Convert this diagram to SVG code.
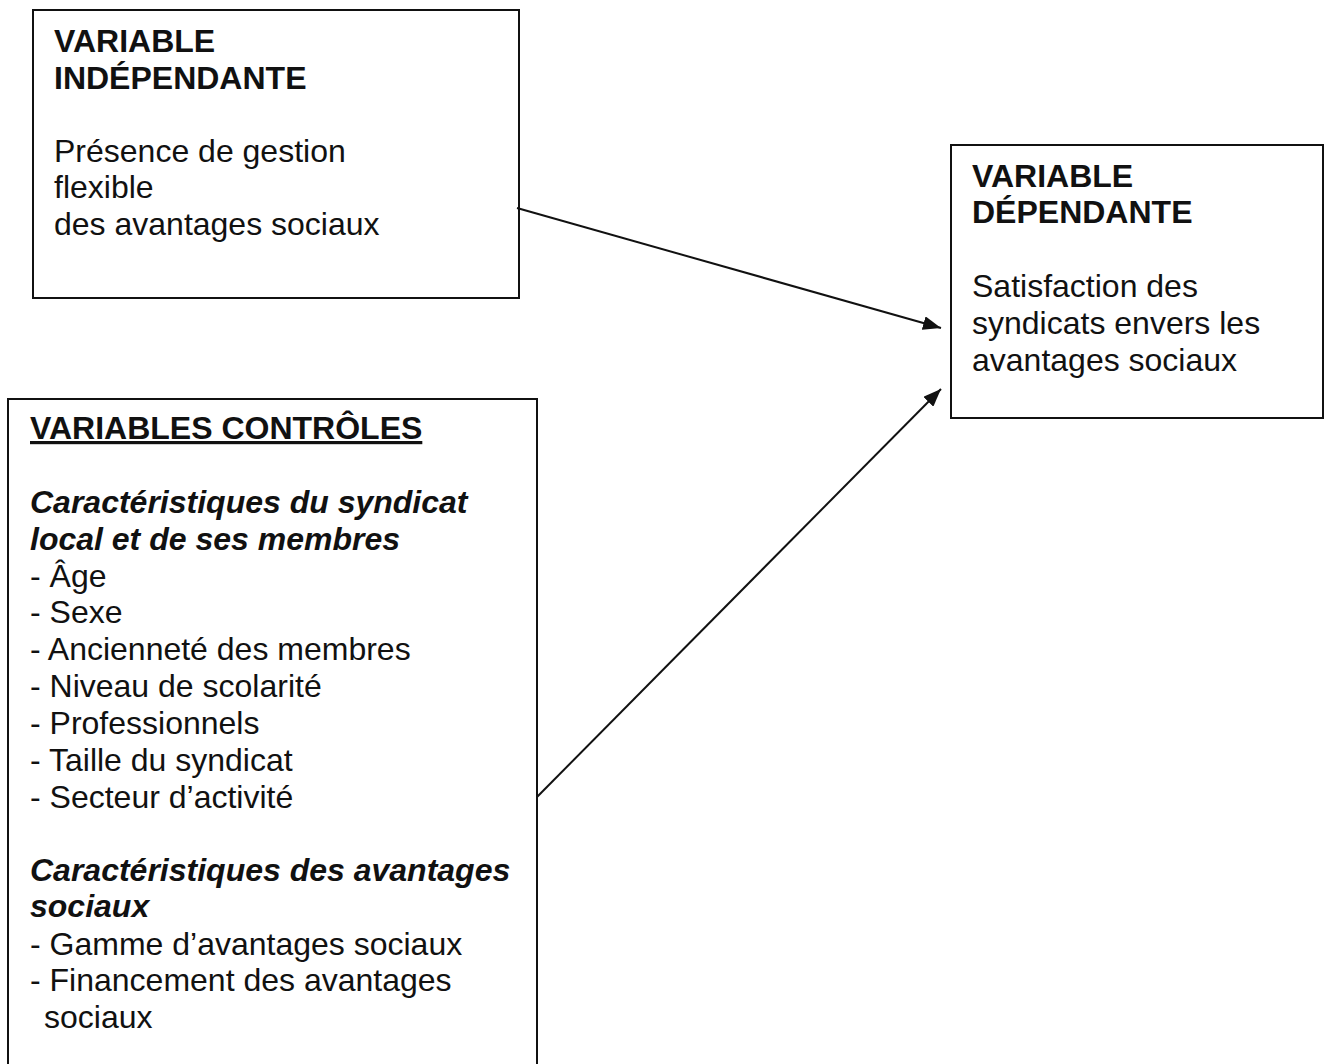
<svg xmlns="http://www.w3.org/2000/svg" width="1329" height="1064" viewBox="0 0 1329 1064">
<style>
.box{fill:#fff;stroke:#111;stroke-width:2}
text{font-family:"Liberation Sans",Arial,sans-serif;font-size:32px;fill:#111}
.b{font-weight:bold}
.bi{font-weight:bold;font-style:italic}
.u{font-weight:bold;text-decoration:underline}
.edge{stroke:#111;stroke-width:2;fill:none}
</style>
<defs>
<marker id="arr" viewBox="0 0 18 14" refX="18" refY="7" markerWidth="18" markerHeight="14" markerUnits="userSpaceOnUse" orient="auto">
<path d="M0,0 L18,7 L0,14 Z" fill="#111"/>
</marker>
</defs>
<rect width="1329" height="1064" fill="#fff"/>
<g id="indep">
<rect class="box" x="33" y="10" width="486" height="288"/>
<text class="b" x="54" y="52">VARIABLE</text>
<text class="b" x="54" y="89">INDÉPENDANTE</text>
<text x="54" y="162">Présence de gestion</text>
<text x="54" y="198">flexible</text>
<text x="54" y="235">des avantages sociaux</text>
</g>
<g id="dep">
<rect class="box" x="951" y="145" width="372" height="273"/>
<text class="b" x="972" y="187">VARIABLE</text>
<text class="b" x="972" y="223">DÉPENDANTE</text>
<text x="972" y="297">Satisfaction des</text>
<text x="972" y="334">syndicats envers les</text>
<text x="972" y="371">avantages sociaux</text>
</g>
<g id="ctrl">
<rect class="box" x="8" y="399" width="529" height="680"/>
<text class="u" x="30" y="439">VARIABLES CONTRÔLES</text>
<text class="bi" x="30" y="513">Caractéristiques du syndicat</text>
<text class="bi" x="30" y="550">local et de ses membres</text>
<text x="30" y="587">- Âge</text>
<text x="30" y="623">- Sexe</text>
<text x="30" y="660">- Ancienneté des membres</text>
<text x="30" y="697">- Niveau de scolarité</text>
<text x="30" y="734">- Professionnels</text>
<text x="30" y="771">- Taille du syndicat</text>
<text x="30" y="808">- Secteur d’activité</text>
<text class="bi" x="30" y="881">Caractéristiques des avantages</text>
<text class="bi" x="30" y="917">sociaux</text>
<text x="30" y="955">- Gamme d’avantages sociaux</text>
<text x="30" y="991">- Financement des avantages</text>
<text x="44" y="1028">sociaux</text>
</g>
<g id="connectors">
<line class="edge" x1="517" y1="208" x2="941" y2="328" marker-end="url(#arr)"/>
<line class="edge" x1="537" y1="797" x2="941" y2="389" marker-end="url(#arr)"/>
</g>
</svg>
